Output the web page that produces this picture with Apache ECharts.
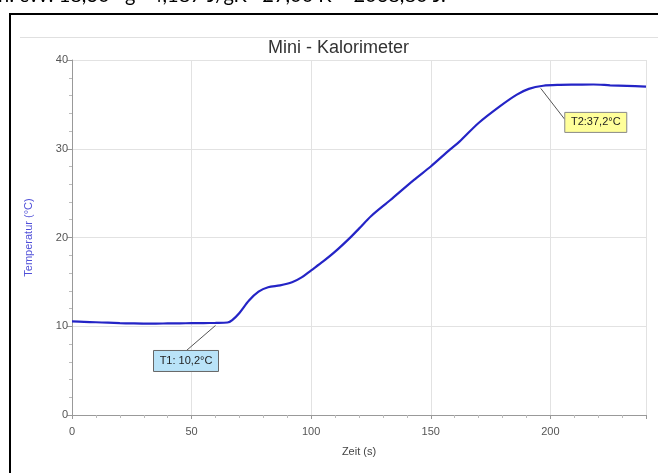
<!DOCTYPE html>
<html>
<head>
<meta charset="utf-8">
<script src="https://cdn.jsdelivr.net/npm/echarts@6/dist/echarts.min.js"></script>
<style>
html,body{margin:0;padding:0;background:#fff;}
#c{width:658px;height:473px;}
</style>
</head>
<body>
<div id="c"></div>
<script>
// ---- data ----
var timeS = [0, 5, 10, 15, 20, 25, 30, 35, 40, 45, 50, 55, 60, 65, 67, 70, 74, 78, 82, 87, 92, 96, 100, 105, 110, 116, 120, 125, 133, 143, 150, 158, 162, 170, 179, 186, 191, 197, 204, 211, 218, 225, 232, 240];
var tempC = [10.55, 10.5, 10.45, 10.4, 10.35, 10.32, 10.3, 10.3, 10.32, 10.33, 10.35, 10.36, 10.38, 10.42, 10.7, 11.5, 12.9, 13.9, 14.4, 14.6, 14.95, 15.5, 16.3, 17.3, 18.4, 19.9, 21.0, 22.4, 24.2, 26.5, 28.0, 29.9, 30.8, 32.9, 34.8, 36.1, 36.75, 37.1, 37.2, 37.22, 37.24, 37.15, 37.08, 37.0];
var annTexts = ['T1: 10,2°C', 'T2:37,2°C'];
var annTime = [60, 196];
var annTemp = [10.2, 36.8];
var titleText = 'Mini - Kalorimeter';
var xName = 'Zeit (s)';
var yName = 'Temperatur (°C)';
var headerText = 'n: cW: 18,30 · g · 4,187 J/gK · 27,00 K = 2068,80 J.';

var points = timeS.map(function (t, i) { return [t, tempC[i]]; });

var chart = echarts.init(document.getElementById('c'), null, {renderer: 'canvas'});
var FONT = 'Liberation Sans, Arial, sans-serif';

chart.setOption({
  backgroundColor: '#fff',
  animation: false,
  title: {
    text: titleText, left: 268, top: 39, padding: 0,
    textStyle: {fontFamily: FONT, fontSize: 18, fontWeight: 'normal', color: '#333'}
  },
  grid: {left: 72, right: 12, top: 60, bottom: 58},
  xAxis: {
    type: 'value', min: 0, max: 240, interval: 50,
    name: xName, nameLocation: 'middle', nameGap: 31,
    nameTextStyle: {fontFamily: FONT, fontSize: 11, color: '#444'},
    axisLine: {show: true, onZero: false, lineStyle: {color: '#999'}},
    axisTick: {show: true, length: 4, lineStyle: {color: '#999'}},
    minorTick: {show: true, splitNumber: 5, length: 3, lineStyle: {color: '#bbb'}},
    axisLabel: {fontFamily: FONT, fontSize: 11, color: '#555', margin: 11, showMaxLabel: false},
    splitLine: {show: true, lineStyle: {color: '#e2e2e2'}}
  },
  yAxis: {
    type: 'value', min: 0, max: 40, interval: 10,
    name: yName, nameLocation: 'middle', nameGap: 38,
    nameTextStyle: {fontFamily: FONT, fontSize: 11, color: '#5050d8'},
    axisLine: {show: true, lineStyle: {color: '#999'}},
    axisTick: {show: true, length: 5, lineStyle: {color: '#999'}},
    minorTick: {show: true, splitNumber: 5, length: 3, lineStyle: {color: '#bbb'}},
    axisLabel: {fontFamily: FONT, fontSize: 11, color: '#555', margin: 4},
    splitLine: {show: true, lineStyle: {color: '#e2e2e2'}}
  },
  series: [{
    type: 'line', data: points, showSymbol: false, smooth: 0.3,
    lineStyle: {color: '#2424c6', width: 2.2},
    z: 5
  }]
});

// annotations placed through the chart's own scales
var g = [
  {type: 'text', left: -2, top: -14, style: {text: headerText, font: '20px Lato, sans-serif', fill: '#000'}, z: 100},
  {type: 'line', shape: {x1: 9, y1: 14, x2: 658, y2: 14}, style: {stroke: '#000', lineWidth: 2}, z: 100},
  {type: 'line', shape: {x1: 10, y1: 13, x2: 10, y2: 473}, style: {stroke: '#000', lineWidth: 2}, z: 100},
  {type: 'line', shape: {x1: 20, y1: 37.5, x2: 658, y2: 37.5}, style: {stroke: '#e0e0e0', lineWidth: 1}, z: 1}
];
var p1 = chart.convertToPixel({seriesIndex: 0}, [annTime[0], annTemp[0]]);
var p2 = chart.convertToPixel({seriesIndex: 0}, [annTime[1], annTemp[1]]);
// T1 box below-left
var b1x = p1[0] - 62, b1y = p1[1] + 26, b1w = 65, b1h = 21;
g.push({type: 'line', shape: {x1: p1[0], y1: p1[1] + 1, x2: p1[0] - 29, y2: b1y}, style: {stroke: '#555', lineWidth: 1}, z: 20});
g.push({type: 'rect', shape: {x: b1x, y: b1y, width: b1w, height: b1h}, style: {fill: '#b9e3f8', stroke: '#666', lineWidth: 1}, z: 21});
g.push({type: 'text', x: b1x + b1w / 2, y: b1y + b1h / 2, style: {text: annTexts[0], font: '11px ' + FONT, fill: '#222', align: 'center', verticalAlign: 'middle'}, z: 22});
// T2 box below-right
var b2x = p2[0] + 24, b2y = p2[1] + 24, b2w = 62, b2h = 20;
g.push({type: 'line', shape: {x1: p2[0], y1: p2[1], x2: b2x, y2: b2y + 7}, style: {stroke: '#555', lineWidth: 1}, z: 20});
g.push({type: 'rect', shape: {x: b2x, y: b2y, width: b2w, height: b2h}, style: {fill: '#ffff9a', stroke: '#888', lineWidth: 1}, z: 21});
g.push({type: 'text', x: b2x + b2w / 2, y: b2y + b2h / 2, style: {text: annTexts[1], font: '11px ' + FONT, fill: '#222', align: 'center', verticalAlign: 'middle'}, z: 22});

chart.setOption({graphic: g});
</script>
</body>
</html>
